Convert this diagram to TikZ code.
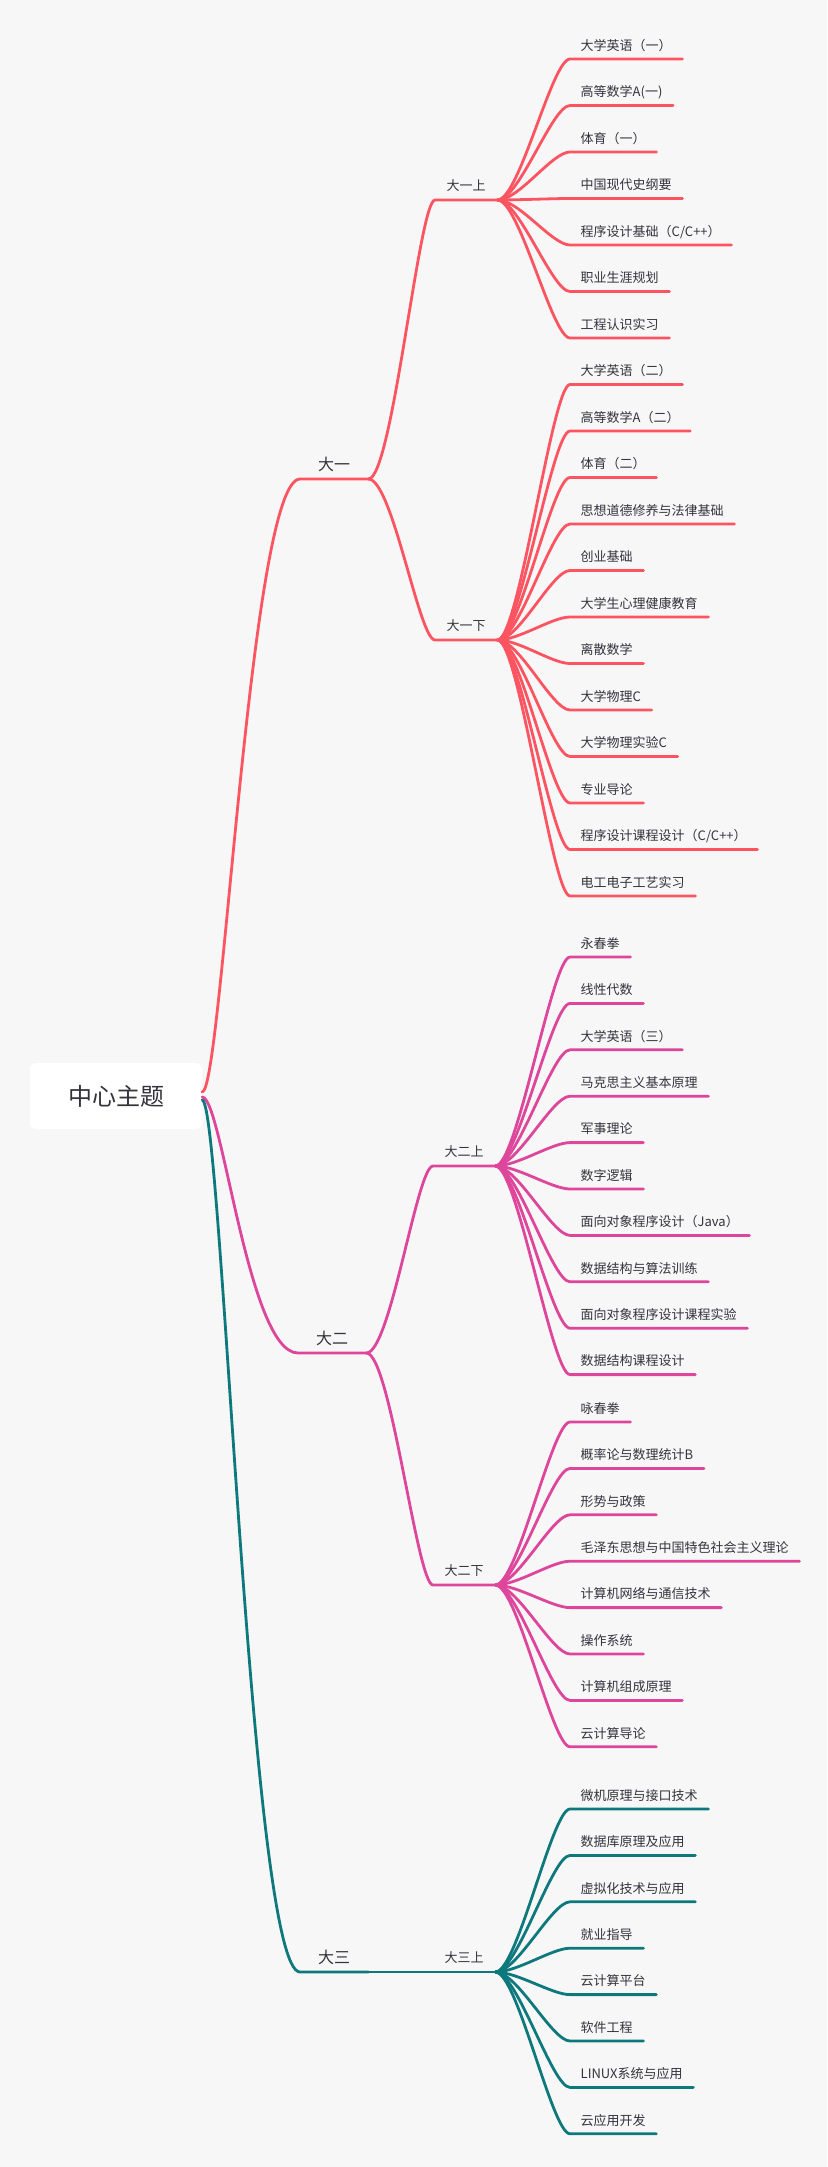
\documentclass[tikz,border=0pt]{standalone}
\usepackage{fontspec}
\newfontfamily\cjk{Noto Sans CJK SC}
\definecolor{bg}{RGB}{247,247,247}
\definecolor{txt}{RGB}{51,51,61}
\definecolor{cR}{RGB}{253,84,97}
\definecolor{cM}{RGB}{222,70,156}
\definecolor{cT}{RGB}{14,121,125}
\begin{document}
\begin{tikzpicture}[x=1pt,y=-1pt,
  tp/.style={anchor=south west, inner ysep=0pt, text=txt},
  leaf/.style={tp, font=\cjk\fontsize{13}{16}\selectfont, inner xsep=10.5pt, text height=10pt, text depth=8.5pt},
  sub/.style={tp, font=\cjk\fontsize{13}{16}\selectfont, inner xsep=11.5pt, text height=10pt, text depth=9.6pt},
  lone/.style={tp, font=\cjk\fontsize{16}{19}\selectfont, inner xsep=18pt, text height=13pt, text depth=8pt},
  ln/.style={line width=2.8pt, line cap=round, line join=round},
  ctr/.style={fill=white, rounded corners=6pt, minimum width=172pt, minimum height=66pt, inner sep=0pt,
    font=\cjk\fontsize{24}{28}\selectfont, text=txt}]
\useasboundingbox (0,0) rectangle (827,2167);
\fill[bg] (0,0) rectangle (827,2167);

% central topic
\node[ctr] (c) at (116,1096) {中心主题};

% level 1
\node[lone] (y1) at (300,479) {大一};
\node[lone] (y2) at (298,1353) {大二};
\node[lone] (y3) at (300,1972) {大三};

\draw[ln,cR] ([yshift=4pt]c.east) .. controls +(20,0) and +(-50,0) .. (y1.south west) -- (y1.south east);
\draw[ln,cM] ([yshift=-1pt]c.east) .. controls +(20,0) and +(-50,0) .. (y2.south west) -- (y2.south east);
\draw[ln,cT] ([yshift=-4pt]c.east) .. controls +(20,0) and +(-50,0) .. (y3.south west) -- (y3.south east);

% level 2
\node[sub] (s11) at (435,200) {大一上};
\node[sub] (s12) at (435,640) {大一下};
\node[sub] (s21) at (433,1166) {大二上};
\node[sub] (s22) at (433,1585) {大二下};
\node[sub] (s31) at (433,1972) {大三上};

\draw[ln,cR] (y1.south east) .. controls +(24,0) and +(-16,0) .. (s11.south west) -- (s11.south east);
\draw[ln,cR] (y1.south east) .. controls +(24,0) and +(-16,0) .. (s12.south west) -- (s12.south east);
\draw[ln,cM] (y2.south east) .. controls +(24,0) and +(-16,0) .. (s21.south west) -- (s21.south east);
\draw[ln,cM] (y2.south east) .. controls +(24,0) and +(-16,0) .. (s22.south west) -- (s22.south east);
\draw[ln,cT] (y3.south east) -- (s31.south west) -- (s31.south east);

% leaves
\foreach \t [count=\i from 0] in {大学英语（一）,高等数学A(一),体育（一）,中国现代史纲要,程序设计基础（C/C++）,职业生涯规划,工程认识实习}{
  \node[leaf] (a\i) at (570,{59+46.5*\i}) {\t};
  \draw[ln,cR] (s11.south east) .. controls +(22,0) and +(-18,0) .. (a\i.south west) -- (a\i.south east);
}
\foreach \t [count=\i from 0] in {大学英语（二）,高等数学A（二）,体育（二）,思想道德修养与法律基础,创业基础,大学生心理健康教育,离散数学,大学物理C,大学物理实验C,专业导论,程序设计课程设计（C/C++）,电工电子工艺实习}{
  \node[leaf] (b\i) at (570,{384.5+46.5*\i}) {\t};
  \draw[ln,cR] (s12.south east) .. controls +(22,0) and +(-18,0) .. (b\i.south west) -- (b\i.south east);
}
\foreach \t [count=\i from 0] in {永春拳,线性代数,大学英语（三）,马克思主义基本原理,军事理论,数字逻辑,面向对象程序设计（Java）,数据结构与算法训练,面向对象程序设计课程实验,数据结构课程设计}{
  \node[leaf] (d\i) at (570,{957+46.4*\i}) {\t};
  \draw[ln,cM] (s21.south east) .. controls +(22,0) and +(-18,0) .. (d\i.south west) -- (d\i.south east);
}
\foreach \t [count=\i from 0] in {咏春拳,概率论与数理统计B,形势与政策,毛泽东思想与中国特色社会主义理论,计算机网络与通信技术,操作系统,计算机组成原理,云计算导论}{
  \node[leaf] (e\i) at (570,{1422+46.4*\i}) {\t};
  \draw[ln,cM] (s22.south east) .. controls +(22,0) and +(-18,0) .. (e\i.south west) -- (e\i.south east);
}
\foreach \t [count=\i from 0] in {微机原理与接口技术,数据库原理及应用,虚拟化技术与应用,就业指导,云计算平台,软件工程,LINUX系统与应用,云应用开发}{
  \node[leaf] (f\i) at (570,{1809+46.4*\i}) {\t};
  \draw[ln,cT] (s31.south east) .. controls +(22,0) and +(-18,0) .. (f\i.south west) -- (f\i.south east);
}
\end{tikzpicture}
\end{document}
